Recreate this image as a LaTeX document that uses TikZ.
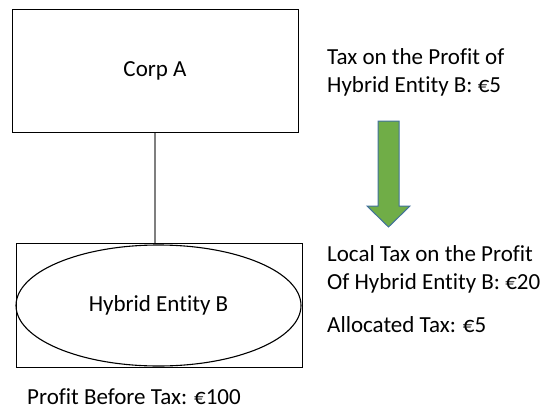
\documentclass[tikz,border=0pt]{standalone}
\usepackage{fontspec}
\setmainfont{Carlito}[Ligatures={NoCommon}]
\usetikzlibrary{shapes.geometric,positioning,calc}
\usepackage{xcolor}
\definecolor{arrowgreen}{HTML}{70AD47}
\definecolor{arrowblue}{HTML}{41719C}
\definecolor{linkgrey}{HTML}{7F7F7F}
\tikzset{
    corpbox/.style={rectangle, draw, minimum width=286pt, minimum height=123.5pt, line width=1pt},
    outerbox/.style={rectangle, draw, minimum width=286pt, minimum height=124pt, line width=1pt},
    entity/.style={ellipse, draw, minimum width=285pt, minimum height=121pt, inner sep=0pt, line width=1.1pt},
    note/.style={anchor=west, align=left, inner sep=0pt},
    link/.style={draw, linkgrey, line width=2pt},
    fatarrow/.style={fill=arrowgreen, draw=arrowblue, line width=1pt}
}

\begin{document}
\begin{tikzpicture}[x=1pt, y=-1pt, font=\fontsize{23}{28}\selectfont]
    \useasboundingbox (0,0) rectangle (544,410);

    \node [corpbox] (corp) at (155,71) {Corp A};
    \node [outerbox] (hybridbox) at (159,305) {};
    \node [entity] (entity) at (158.5,305.5) {Hybrid Entity B};

    \path [link] (corp.south) -- (corp.south |- hybridbox.north);

    \node [note] (taxprofit) at (327,72.5) {Tax on the Profit of\\Hybrid Entity B: €5};
    \node [note] (localtax) at (327,269) {Local Tax on the Profit\\Of Hybrid Entity B: €20};
    \node [note] (allocated) at (327,325) {Allocated Tax: €5};
    \node [note] (profit) at (27,397) {Profit Before Tax: €100};

    % green down arrow
    \coordinate (arrowtop) at (378,121);
    \filldraw [fatarrow] (arrowtop) -- ++(21,0) -- ++(0,85) -- ++(11,0)
        -- ++(-21.5,21) -- ++(-21.5,-21) -- ++(11,0) -- cycle;
\end{tikzpicture}
\end{document}
